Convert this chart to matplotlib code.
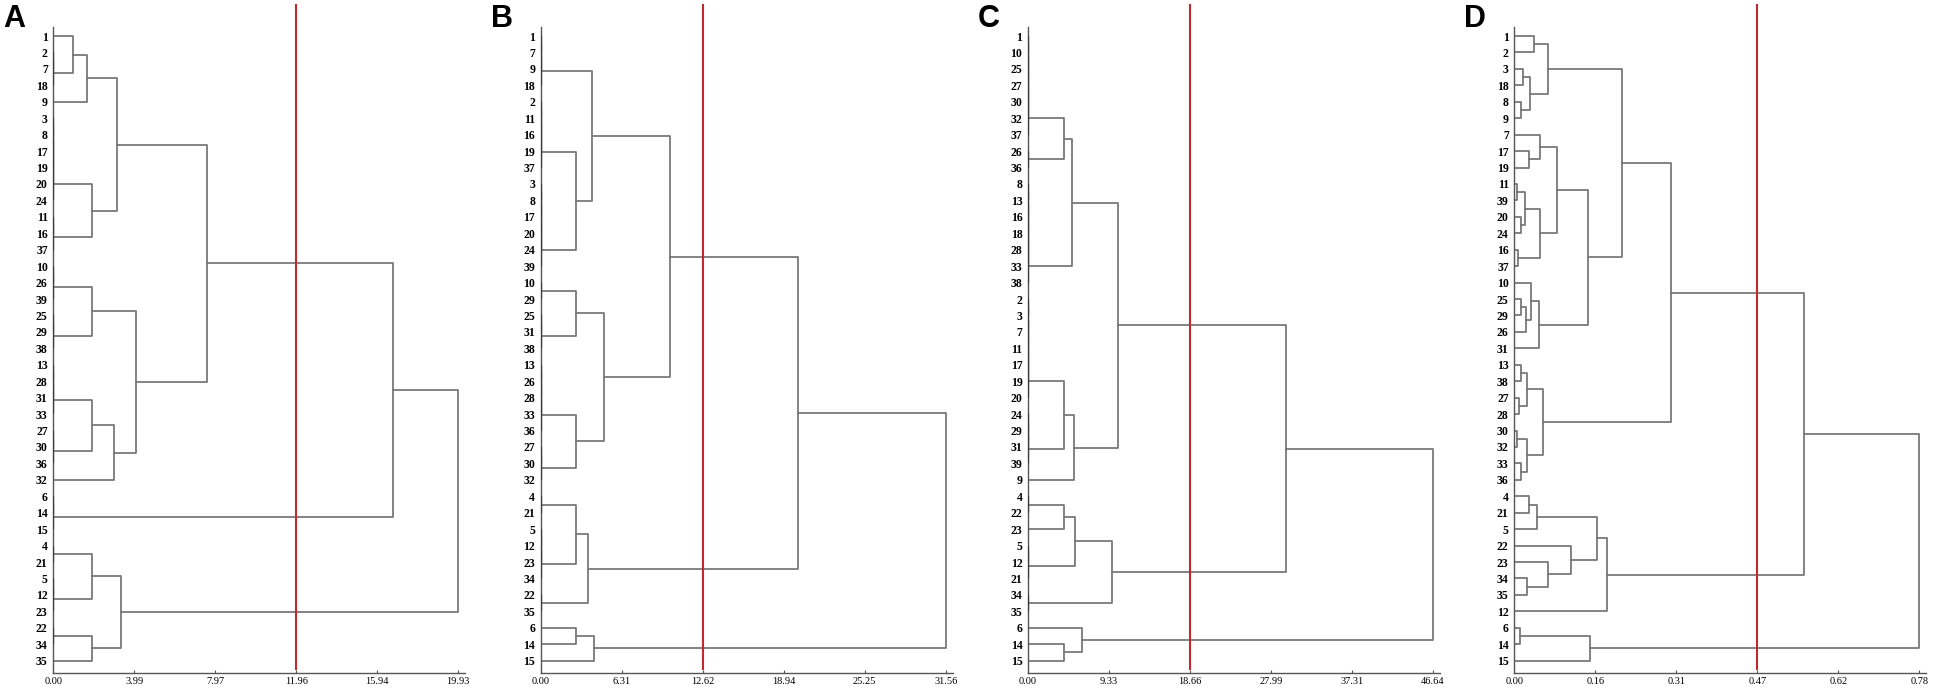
import numpy as np
import matplotlib
matplotlib.use("Agg")
import matplotlib.pyplot as plt

# leaf order (top to bottom) for each panel
leaves_a = ["1", "2", "7", "18", "9", "3", "8", "17", "19", "20", "24", "11", "16", "37",
            "10", "26", "39", "25", "29", "38", "13", "28", "31", "33", "27", "30", "36", "32",
            "6", "14", "15", "4", "21", "5", "12", "23", "22", "34", "35"]
leaves_b = ["1", "7", "9", "18", "2", "11", "16", "19", "37", "3", "8", "17", "20", "24",
            "39", "10", "29", "25", "31", "38", "13", "26", "28", "33", "36", "27", "30", "32",
            "4", "21", "5", "12", "23", "34", "22", "35", "6", "14", "15"]
leaves_c = ["1", "10", "25", "27", "30", "32", "37", "26", "36", "8", "13", "16", "18", "28",
            "33", "38", "2", "3", "7", "11", "17", "19", "20", "24", "29", "31", "39", "9",
            "4", "22", "23", "5", "12", "21", "34", "35", "6", "14", "15"]
leaves_d = ["1", "2", "3", "18", "8", "9", "7", "17", "19", "11", "39", "20", "24", "16",
            "37", "10", "25", "29", "26", "31", "13", "38", "27", "28", "30", "32", "33", "36",
            "4", "21", "5", "22", "23", "34", "35", "12", "6", "14", "15"]

# trees: (height, left, right); a plain list = leaves joined at ~0 distance
tree_a = (19.93,
          (16.74,
           (7.57,
            (3.14,
             (1.67, (0.95, ["1"], ["2", "7", "18"]), ["9"]),
             (1.92, ["3", "8", "17", "19", "20", "24"], ["11", "16", "37"])),
            (4.06,
             (1.92, ["10", "26", "39"], ["25", "29", "38"]),
             (3.00, (1.92, ["13", "28", "31", "33"], ["27", "30", "36"]), ["32"]))),
           ["6", "14", "15"]),
          (3.31,
           (1.92, ["4", "21"], ["5", "12", "23"]),
           (1.92, ["22", "34"], ["35"])))

tree_b = (31.56,
          (20.05,
           (10.04,
            (3.96, ["1", "7", "9", "18"],
             (2.74, ["2", "11", "16", "19", "37"], ["3", "8", "17", "20", "24", "39"])),
            (4.93,
             (2.74, ["10", "29"], ["25", "31", "38"]),
             (2.72, ["13", "26", "28", "33", "36"], ["27", "30", "32"]))),
           (3.70, (2.72, ["4", "21"], ["5", "12", "23", "34"]), ["22", "35"])),
          (4.17, (2.72, ["6"], ["14"]), ["15"]))

tree_c = (46.643,
          (29.66,
           (10.38,
            (5.06, (4.10, ["1", "10", "25", "27", "30", "32", "37"], ["26", "36"]),
             ["8", "13", "16", "18", "28", "33", "38"]),
            (5.25, (4.10, ["2", "3", "7", "11", "17", "19", "20"], ["24", "29", "31", "39"]),
             ["9"])),
           (9.66, (5.44, (4.10, ["4", "22"], ["23"]), ["5", "12", "21"]), ["34", "35"])),
          (6.21, ["6"], (4.10, ["14"], ["15"])))

tree_d = (0.78,
          (0.558,
           (0.302,
            (0.207,
             (0.064, (0.038, "1", "2"), (0.030, (0.017, "3", "18"), (0.012, "8", "9"))),
             (0.142,
              (0.083,
               (0.049, "7", (0.029, "17", "19")),
               (0.049, (0.021, (0.006, "11", "39"), (0.012, "20", "24")), (0.008, "16", "37"))),
              (0.0475, (0.032, "10", (0.022, (0.012, "25", "29"), "26")), "31"))),
            (0.056,
             (0.025, (0.012, "13", "38"), (0.010, "27", "28")),
             (0.024, (0.006, "30", "32"), (0.012, "33", "36")))),
           (0.178,
            (0.160, (0.043, (0.028, "4", "21"), "5"), (0.110, "22", (0.065, "23", (0.025, "34", "35")))),
            "12")),
          (0.145, (0.0116, "6", "14"), "15"))

letters = ["A", "B", "C", "D"]
cut_values = [11.96, 12.62, 18.66, 0.468]
max_values = [19.93, 31.56, 46.643, 0.78]
panels = [(leaves_a, tree_a), (leaves_b, tree_b), (leaves_c, tree_c), (leaves_d, tree_d)]

LINE = "#747474"
DARK = "#3a3a3a"


def draw(ax, node, pos):
    """draw node, return (y centre, height)"""
    if isinstance(node, str):
        return pos[node], 0.0
    if isinstance(node, list):
        y = pos[node[0]]
        for lab in node[1:]:
            y2 = pos[lab]
            ax.plot([0, 0], [y, y2], color=DARK, lw=1.6, solid_capstyle="butt", zorder=3)
            y = (y + y2) / 2
        return y, 0.0
    h, left, right = node
    y1, h1 = draw(ax, left, pos)
    y2, h2 = draw(ax, right, pos)
    ax.plot([h1, h, h, h2], [y1, y1, y2, y2], color=LINE, lw=1.25, zorder=2)
    return (y1 + y2) / 2, h


W, H = 1950, 694
fig = plt.figure(figsize=(W / 100, H / 100), dpi=100)

x0s = [53.3, 540.7, 1028.0, 1514.3]
span = 405.0
top_px, bot_px = 27, 673

for i, (leaves, tree) in enumerate(panels):
    ax = fig.add_axes([x0s[i] / W, (H - bot_px) / H, (span + 7) / W, (bot_px - top_px) / H])
    pos = {lab: k for k, lab in enumerate(leaves)}
    draw(ax, tree, pos)
    mx = max_values[i]
    ax.set_xlim(0, mx * (span + 7) / span)
    ax.set_ylim(38.75, -0.55)
    ax.plot([cut_values[i], cut_values[i]], [38.5, -1.9], color="#c3282e", lw=1.5,
            clip_on=False, zorder=4)
    ticks = np.linspace(0, mx, 6)
    ax.set_xticks(ticks)
    ax.set_xticklabels([f"{t:.2f}" for t in ticks], family="Liberation Serif", fontsize=7.5)
    ax.set_yticks(range(len(leaves)))
    ax.set_yticklabels(leaves, family="Liberation Serif", fontsize=8.5, fontweight="bold")
    ax.tick_params(axis="y", length=0, pad=4)
    ax.tick_params(axis="x", direction="in", length=2.5, width=0.8, color="#555555", pad=3)
    for s in ["top", "right"]:
        ax.spines[s].set_visible(False)
    for s in ["left", "bottom"]:
        ax.spines[s].set_color("#555555")
        ax.spines[s].set_linewidth(1.0)
    fig.text((x0s[i] - 50) / W, 1 - 4 / H, letters[i], family="Liberation Sans",
             fontweight="bold", fontsize=22, va="top", ha="left")

fig.savefig("out.png", dpi=100)
